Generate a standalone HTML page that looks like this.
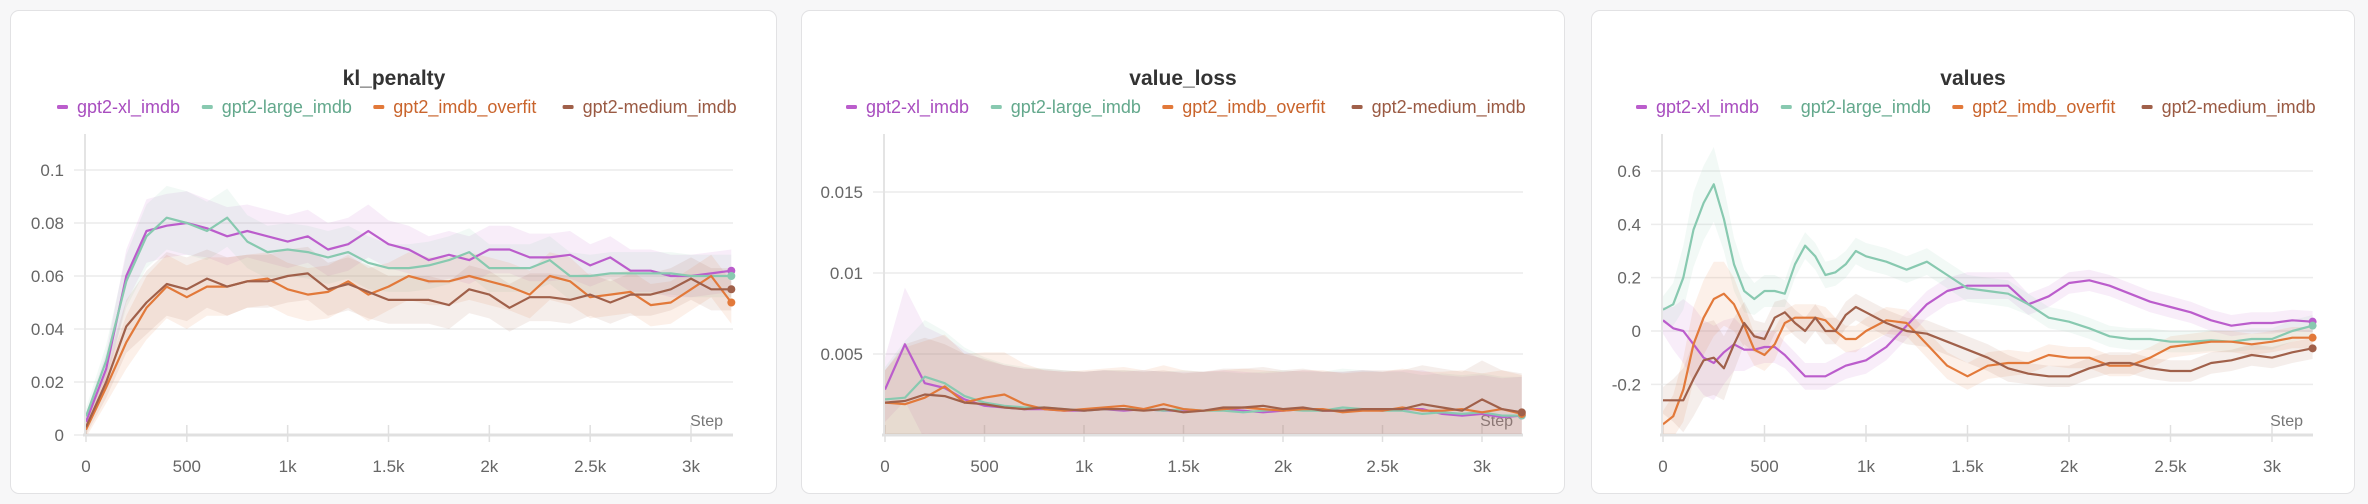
<!DOCTYPE html>
<html><head><meta charset="utf-8">
<style>
html,body{margin:0;padding:0;background:#f7f7f8;width:2368px;height:504px;overflow:hidden;font-family:"Liberation Sans",sans-serif;}
.card{position:absolute;top:10px;height:484px;background:#fff;border:1.5px solid #e2e2e4;border-radius:9px;box-sizing:border-box;}
svg{position:absolute;left:0;top:0;}
</style></head>
<body>
<div class="card" style="left:10px;width:767px"></div>
<div class="card" style="left:801px;width:764px"></div>
<div class="card" style="left:1591px;width:764px"></div>
<svg id="chart" width="2368" height="504"></svg>
<script>
// ---- kl_penalty data (steps every 100) ----
const klSteps = [0,100,200,300,400,500,600,700,800,900,1000,1100,1200,1300,1400,1500,1600,1700,1800,1900,2000,2100,2200,2300,2400,2500,2600,2700,2800,2900,3000,3100,3200];
const klXl = [0.005,0.025,0.06,0.077,0.079,0.08,0.078,0.075,0.077,0.075,0.073,0.075,0.07,0.072,0.077,0.072,0.07,0.066,0.068,0.066,0.07,0.07,0.067,0.067,0.068,0.064,0.067,0.062,0.062,0.06,0.06,0.061,0.062];
const klLarge = [0.007,0.028,0.058,0.075,0.082,0.08,0.077,0.082,0.073,0.069,0.07,0.069,0.067,0.069,0.065,0.063,0.063,0.064,0.066,0.069,0.063,0.063,0.063,0.066,0.06,0.06,0.061,0.061,0.061,0.061,0.06,0.06,0.06];
const klOverfit = [0.002,0.018,0.035,0.048,0.056,0.052,0.056,0.056,0.058,0.059,0.055,0.053,0.054,0.058,0.053,0.056,0.06,0.058,0.058,0.06,0.058,0.056,0.053,0.06,0.058,0.052,0.053,0.054,0.049,0.05,0.055,0.06,0.05];
const klMedium = [0.003,0.02,0.041,0.05,0.057,0.055,0.059,0.056,0.058,0.058,0.06,0.061,0.055,0.057,0.054,0.051,0.051,0.051,0.049,0.055,0.053,0.048,0.052,0.052,0.051,0.053,0.05,0.053,0.053,0.055,0.059,0.055,0.055];
const klNoise = [0.003,0.006,0.01,0.012,0.012,0.012,0.011,0.011,0.01,0.01,0.01,0.01,0.01,0.01,0.01,0.009,0.009,0.009,0.009,0.009,0.009,0.009,0.009,0.009,0.009,0.008,0.008,0.008,0.008,0.008,0.008,0.008,0.008];
const klYTicks = [0,0.02,0.04,0.06,0.08,0.1];
const klYLabels = ["0","0.02","0.04","0.06","0.08","0.1"];

// ---- value_loss data ----
const vlSteps = klSteps;
const vlXl = [0.0028,0.0056,0.0032,0.0029,0.0022,0.0018,0.0017,0.0016,0.0016,0.0015,0.0015,0.0016,0.0015,0.0016,0.0015,0.0015,0.0015,0.0016,0.0015,0.0014,0.0015,0.0016,0.0015,0.0015,0.0016,0.0015,0.0016,0.0016,0.0013,0.0012,0.0013,0.0011,0.0012];
const vlLarge = [0.0022,0.0023,0.0036,0.0032,0.0024,0.002,0.0018,0.0017,0.0017,0.0016,0.0015,0.0016,0.0016,0.0016,0.0015,0.0016,0.0015,0.0015,0.0014,0.0015,0.0016,0.0015,0.0015,0.0017,0.0016,0.0015,0.0015,0.0013,0.0014,0.0013,0.0014,0.0012,0.0012];
const vlOverfit = [0.002,0.0019,0.0023,0.003,0.002,0.0023,0.0025,0.0019,0.0016,0.0015,0.0016,0.0017,0.0018,0.0016,0.0019,0.0016,0.0015,0.0016,0.0017,0.0016,0.0015,0.0016,0.0016,0.0014,0.0015,0.0015,0.0017,0.0015,0.0015,0.0016,0.0014,0.0016,0.0013];
const vlMedium = [0.002,0.0021,0.0025,0.0024,0.002,0.0019,0.0017,0.0016,0.0017,0.0016,0.0015,0.0016,0.0016,0.0015,0.0016,0.0014,0.0015,0.0017,0.0017,0.0018,0.0016,0.0017,0.0015,0.0015,0.0016,0.0016,0.0016,0.0019,0.0017,0.0015,0.0022,0.0016,0.0014];
const vlNoise = [0.002,0.0035,0.0035,0.0032,0.003,0.0028,0.0026,0.0025,0.0024,0.0024,0.0024,0.0024,0.0024,0.0024,0.0024,0.0024,0.0024,0.0024,0.0024,0.0024,0.0024,0.0024,0.0024,0.0024,0.0024,0.0024,0.0024,0.0024,0.0024,0.0024,0.0024,0.0024,0.0024];
const vlYTicks = [0.005,0.01,0.015];
const vlYLabels = ["0.005","0.01","0.015"];

// ---- values data ----
const vaSteps = [0,50,100,150,200,250,300,350,400,450,500,550,600,650,700,750,800,850,900,950,1000,1100,1200,1300,1400,1500,1600,1700,1800,1900,2000,2100,2200,2300,2400,2500,2600,2700,2800,2900,3000,3100,3200];
const vaXl = [0.04,0.01,0,-0.05,-0.1,-0.12,-0.08,-0.05,-0.07,-0.07,-0.06,-0.06,-0.09,-0.13,-0.17,-0.17,-0.17,-0.15,-0.13,-0.12,-0.11,-0.06,0.02,0.1,0.15,0.17,0.17,0.17,0.1,0.13,0.18,0.19,0.17,0.14,0.11,0.09,0.07,0.04,0.02,0.03,0.03,0.04,0.035];
const vaLarge = [0.08,0.1,0.2,0.38,0.48,0.55,0.42,0.25,0.15,0.12,0.15,0.15,0.14,0.25,0.32,0.28,0.21,0.22,0.25,0.3,0.28,0.26,0.23,0.26,0.21,0.16,0.15,0.14,0.1,0.05,0.035,0.01,-0.02,-0.03,-0.03,-0.04,-0.04,-0.035,-0.04,-0.03,-0.03,0,0.02];
const vaOverfit = [-0.35,-0.32,-0.22,-0.05,0.05,0.12,0.14,0.1,0.02,-0.07,-0.09,-0.05,0.03,0.05,0.05,0.05,0.04,0,-0.03,-0.03,0,0.04,0.03,-0.05,-0.13,-0.17,-0.13,-0.12,-0.12,-0.09,-0.1,-0.1,-0.13,-0.13,-0.1,-0.06,-0.05,-0.04,-0.04,-0.05,-0.04,-0.025,-0.025];
const vaMedium = [-0.26,-0.26,-0.26,-0.18,-0.11,-0.1,-0.14,-0.05,0.03,-0.02,-0.03,0.05,0.07,0.03,0,0.05,0,0,0.06,0.09,0.07,0.03,0,-0.01,-0.04,-0.07,-0.1,-0.14,-0.16,-0.17,-0.17,-0.14,-0.12,-0.12,-0.14,-0.15,-0.15,-0.12,-0.11,-0.09,-0.1,-0.08,-0.065];
const vaNoise = [0.05,0.08,0.12,0.14,0.14,0.14,0.12,0.1,0.08,0.06,0.06,0.06,0.05,0.05,0.05,0.05,0.05,0.05,0.05,0.05,0.05,0.05,0.05,0.05,0.05,0.05,0.05,0.05,0.04,0.04,0.04,0.04,0.04,0.04,0.04,0.04,0.04,0.04,0.04,0.04,0.04,0.04,0.04];
const vaYTicks = [-0.2,0,0.2,0.4,0.6];
const vaYLabels = ["-0.2","0","0.2","0.4","0.6"];

const xTicks = [0,500,1000,1500,2000,2500,3000];
const xLabels = ["0","500","1k","1.5k","2k","2.5k","3k"];
const seriesNames = ["gpt2-xl_imdb","gpt2-large_imdb","gpt2_imdb_overfit","gpt2-medium_imdb"];
const lineColors = ["#bb5dcc","#88c9b0","#e2793a","#a0604a"];
const textColors = ["#a84dbf","#63a88c","#c9642c","#9a5a43"];

const NS = "http://www.w3.org/2000/svg";
const svg = document.getElementById("chart");
function mk(tag, attrs, parent){const e=document.createElementNS(NS,tag);for(const k in attrs)e.setAttribute(k,attrs[k]);(parent||svg).appendChild(e);return e;}

function drawChart(c){
  const g = mk("g",{});
  
  
  const xS = v => c.x0 + (v/3000)*(c.x3k - c.x0);
  const yS = v => c.yZeroPx - (v - c.yZero)/(c.yRef - c.yZero)*(c.yZeroPx - c.yRefPx);
  const t = mk("text",{x:c.cx,y:85,"text-anchor":"middle","font-size":21,"font-weight":"bold",fill:"#333"},g);
  t.textContent = c.title;
  
  
  const widths = seriesNames.map(n=>n.length*8.9+26);
  const total = widths.reduce((a,b)=>a+b,0)+12*3;
  let lx = c.cx - total/2;
  seriesNames.forEach((n,i)=>{
    const lg = mk("g",{},g);
    
    
    mk("rect",{x:lx,y:105,width:11,height:4,rx:1.5,fill:lineColors[i]},lg);
    const tt = mk("text",{x:lx+20,y:113,"font-size":18,fill:textColors[i]},lg);
    tt.textContent = n;
    lx += widths[i]+12;
  });
  c.yTicks.forEach((v,i)=>{
    const y = yS(v);
    mk("line",{x1:c.x0-12,x2:c.xr,y1:y,y2:y,stroke:"#ececec","stroke-width":1.5},g);
    const tl = mk("text",{x:c.x0-22,y:y+6,"text-anchor":"end","font-size":17,fill:"#666"},g);
    tl.textContent = c.yLabels[i];
    
    
  });
  mk("line",{x1:c.x0-1,x2:c.x0-1,y1:134,y2:436,stroke:"#e4e4e4","stroke-width":2},g);
  mk("line",{x1:c.x0-3,x2:c.xr,y1:435,y2:435,stroke:"#e0e0e0","stroke-width":3},g);
  xTicks.forEach((v,i)=>{
    const x = xS(v);
    mk("line",{x1:x,x2:x,y1:425,y2:442,stroke:"#e0e0e0","stroke-width":1.5},g);
    const tl = mk("text",{x:x,y:472,"text-anchor":"middle","font-size":17,fill:"#666"},g);
    tl.textContent = xLabels[i];
    
    
  });
  const st = mk("text",{x:c.xr-10,y:426,"text-anchor":"end","font-size":16,fill:"#777"},g);
  st.textContent = "Step";
  
  
  const clipId = "clip"+c.key;
  const cp = mk("clipPath",{id:clipId},g);
  mk("rect",{x:c.x0,y:134,width:c.xr-c.x0+8,height:300},cp);
  c.series.forEach((s,i)=>{
    let up="", dn="";
    c.steps.forEach((st,j)=>{ up += (j?"L":"M")+xS(st).toFixed(1)+","+yS(s[j]+c.noise[j]).toFixed(1); });
    for(let j=c.steps.length-1;j>=0;j--){ dn += "L"+xS(c.steps[j]).toFixed(1)+","+yS(s[j]-c.noise[j]).toFixed(1); }
    const b = mk("path",{d:up+dn+"Z",fill:lineColors[i],"fill-opacity":0.11,"clip-path":"url(#"+clipId+")"},g);
    
    
  });
  c.series.forEach((s,i)=>{
    let d="";
    c.steps.forEach((st,j)=>{ d += (j?"L":"M")+xS(st).toFixed(1)+","+yS(s[j]).toFixed(1); });
    const p = mk("path",{d:d,fill:"none",stroke:lineColors[i],"stroke-width":2.2,"stroke-linejoin":"round","clip-path":"url(#"+clipId+")"},g);
    
    
    const last = c.steps.length-1;
    const dot = mk("circle",{cx:xS(c.steps[last]),cy:yS(s[last]),r:4,fill:lineColors[i]},g);
    
    
  });
}

drawChart({key:"kl",title:"kl_penalty",cx:394,x0:86,x3k:691,xr:733,yZero:0,yZeroPx:435,yRef:0.1,yRefPx:170,
  yTicks:klYTicks,yLabels:klYLabels,steps:klSteps,series:[klXl,klLarge,klOverfit,klMedium],noise:klNoise});
drawChart({key:"vl",title:"value_loss",cx:1183,x0:885,x3k:1482,xr:1523,yZero:0,yZeroPx:435,yRef:0.015,yRefPx:192,
  yTicks:vlYTicks,yLabels:vlYLabels,steps:vlSteps,series:[vlXl,vlLarge,vlOverfit,vlMedium],noise:vlNoise});
drawChart({key:"va",title:"values",cx:1973,x0:1663,x3k:2272,xr:2313,yZero:0,yZeroPx:331,yRef:0.6,yRefPx:171,
  yTicks:vaYTicks,yLabels:vaYLabels,steps:vaSteps,series:[vaXl,vaLarge,vaOverfit,vaMedium],noise:vaNoise});
</script>
</body></html>
